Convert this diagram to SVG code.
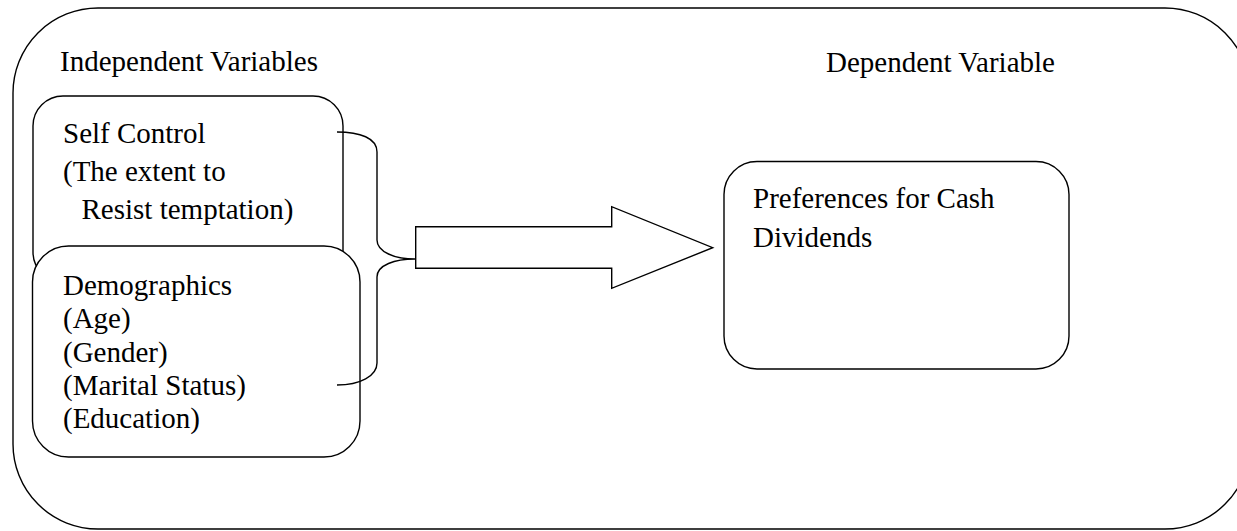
<svg xmlns="http://www.w3.org/2000/svg" width="1237" height="531" viewBox="0 0 1237 531" font-family="'Liberation Serif', 'DejaVu Serif', serif">
  <style>
    .box { fill: #ffffff; stroke: #000000; stroke-width: 1.4; }
    .conn { fill: none; stroke: #000000; stroke-width: 1.4; }
    .arrow { fill: #ffffff; stroke: #000000; stroke-width: 1.4; stroke-linejoin: miter; }
    .t { font-family: 'Liberation Serif', 'DejaVu Serif', serif; font-size: 29px; fill: #000000; }
  </style>
  <g id="frame">
    <rect class="box" x="13" y="8" width="1237" height="521" rx="85" ry="85"/>
    <text class="t" x="60" y="71">Independent Variables</text>
    <text class="t" x="826" y="72">Dependent Variable</text>
  </g>
  <g id="self-control">
    <rect class="box" x="33" y="96" width="310" height="186" rx="30" ry="30"/>
    <text class="t" x="63" y="143">Self Control</text>
    <text class="t" x="63" y="180.5">(The extent to</text>
    <text class="t" x="81.5" y="219">Resist temptation)</text>
  </g>
  <g id="demographics">
    <rect class="box" x="32.5" y="246" width="327.5" height="211" rx="36" ry="36"/>
    <text class="t" x="63" y="295">Demographics</text>
    <text class="t" x="63" y="327.5">(Age)</text>
    <text class="t" x="63" y="361.5">(Gender)</text>
    <text class="t" x="63" y="395">(Marital Status)</text>
    <text class="t" x="63" y="428">(Education)</text>
  </g>
  <g id="preferences">
    <rect class="box" x="724" y="161.5" width="345" height="207.5" rx="33" ry="33"/>
    <text class="t" x="753" y="208">Preferences for Cash</text>
    <text class="t" x="753" y="246.5">Dividends</text>
  </g>
  <g id="connectors">
    <path class="conn" d="M337,132 C360,132 377,138 377,152 L377,240 C377,252 395,259 415,259 C395,259 377,265 377,277 L377,363 C377,376 360,385 337,385"/>
    <polygon class="arrow" points="415.7,226.7 611.7,226.7 611.7,206.7 712.7,247.7 611.7,288.3 611.7,268.3 415.7,268.3"/>
  </g>
</svg>
